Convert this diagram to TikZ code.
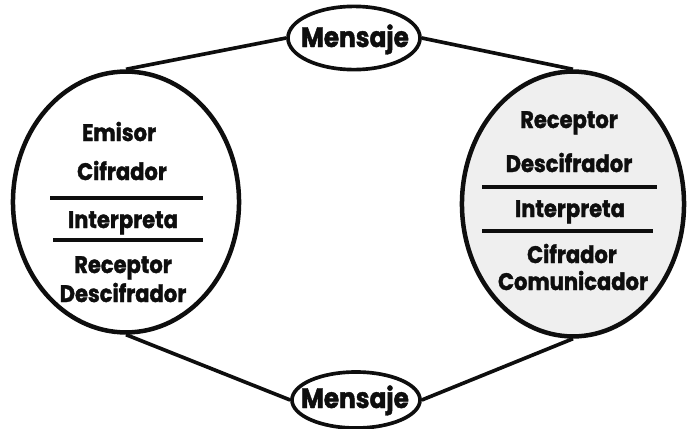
\documentclass[tikz,border=0pt]{standalone}
\usepackage{fontspec}
\setmainfont{Poppins}[BoldFeatures={FakeBold=1.6, FakeStretch=0.88}]
\usetikzlibrary{shapes.geometric}
\definecolor{InkBlack}{HTML}{0E0E0E}
\definecolor{StippleGray}{HTML}{EFEFEF}

\begin{document}
\begin{tikzpicture}[x=0.025cm,y=-0.025cm,
    every node/.style={font=\bfseries\fontsize{17}{20}\selectfont, text=InkBlack},
    bubble/.style={ellipse, draw=InkBlack, line width=3.2pt, inner sep=0pt},
    msgbox/.style={ellipse, draw=InkBlack, line width=2.6pt, inner sep=0pt, fill=white},
    word/.style={anchor=base},
    msgword/.style={anchor=base, font=\bfseries\fontsize{20}{24}\selectfont},
    rule/.style={draw=InkBlack, line width=2.6pt}]
  \useasboundingbox (0,0) rectangle (687,429);
  % two speakers
  \node[bubble, minimum width=5.65cm, minimum height=6.52cm] (emisor) at (126,202) {};
  \node[bubble, fill=StippleGray, minimum width=5.55cm, minimum height=6.62cm] (receptor) at (573,204) {};
  % message ovals
  \node[msgbox, minimum width=3.3cm, minimum height=1.58cm] (msjtop) at (354,38) {};
  \node[msgbox, minimum width=3.2cm, minimum height=1.4cm] (msjbot) at (356,400) {};
  \node[msgword] (msjtoptxt) at (355,47) {Mensaje};
  \node[msgword] (msjbottxt) at (355,408) {Mensaje};
  % connectors
  \draw[rule] (emisor.north) -- (msjtop.west);
  \draw[rule] (msjtop.east) -- (receptor.north);
  \draw[rule] (emisor.south) -- (msjbot.west);
  \draw[rule] (msjbot.east) -- (receptor.south);
  % left side
  \node[word] (lemisor) at (119,141) {Emisor};
  \node[word] (lcifrador) at (122,180) {Cifrador};
  \node[word] (linterpreta) at (123,228) {Interpreta};
  \node[word] (lreceptor) at (123,273) {Receptor};
  \node[word] (ldescifrador) at (123,302) {Descifrador};
  \draw[rule] (50,198) -- (203,198);
  \draw[rule] (53,240) -- (203,240);
  % right side
  \node[word] (rreceptor) at (569,128) {Receptor};
  \node[word] (rdescifrador) at (569,172) {Descifrador};
  \node[word] (rinterpreta) at (570,217) {Interpreta};
  \node[word] (rcifrador) at (572,263) {Cifrador};
  \node[word] (rcomunicador) at (573,290) {Comunicador};
  \draw[rule] (482,187) -- (657,187);
  \draw[rule] (482,231) -- (653,231);
\end{tikzpicture}
\end{document}
